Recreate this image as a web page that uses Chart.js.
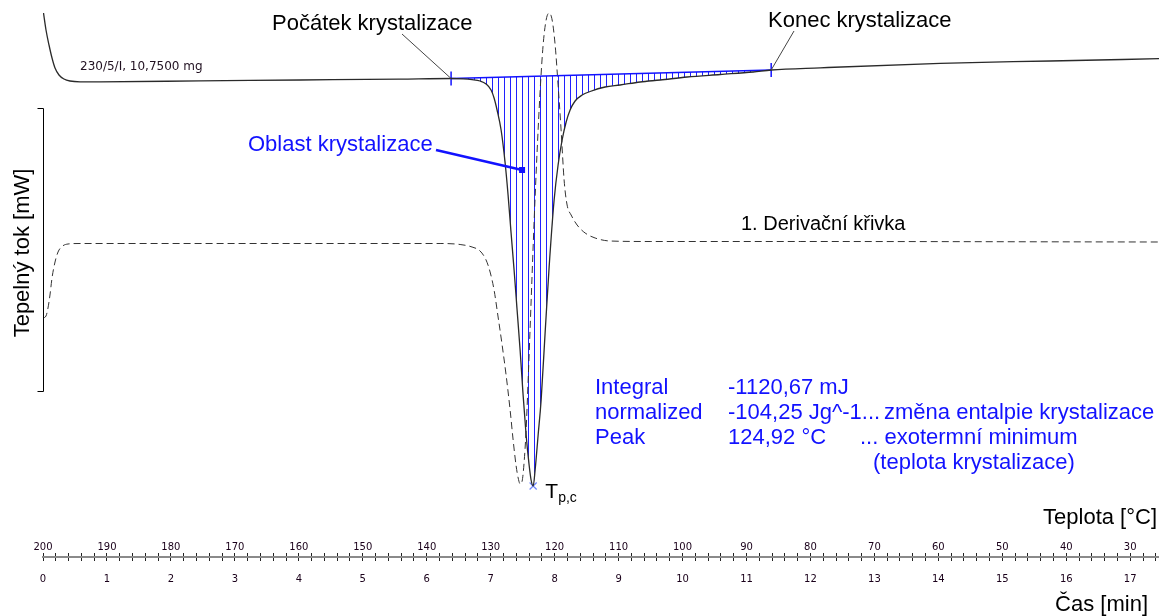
<!DOCTYPE html>
<html>
<head>
<meta charset="utf-8">
<script src="https://cdn.jsdelivr.net/npm/chart.js@4.4.1/dist/chart.umd.min.js"></script>
<style>
  html, body { margin: 0; padding: 0; background: #fff; }
</style>
</head>
<body>
<canvas id="dsc" width="1159" height="616"></canvas>
<script>
// DSC cooling run, 200 °C down at 10 °C/min; x is time in minutes
const startTemp = 200;
const coolRate = 10;
const timeMax = 17.45;

// heat flow curve [mW]
const dscTime = [0.008, 0.047, 0.094, 0.141, 0.188, 0.250, 0.328, 0.422, 0.579, 0.891, 2.455, 4.019, 5.583, 6.381, 6.569, 6.709, 6.834, 6.928, 7.006, 7.053, 7.100, 7.163, 7.226, 7.272, 7.319, 7.366, 7.413, 7.460, 7.507, 7.554, 7.601, 7.632, 7.664, 7.695, 7.742, 7.789, 7.851, 7.914, 7.992, 8.054, 8.117, 8.180, 8.242, 8.320, 8.430, 8.555, 8.789, 9.024, 9.337, 9.650, 10.072, 10.588, 11.104, 11.386, 12.152, 14.029, 15.749, 17.454];
const dscFlow = [3.35, 2.50, 1.75, 1.10, 0.60, 0.25, 0.05, -0.05, -0.09, -0.09, -0.045, 0.00, 0.045, 0.075, 0.06, 0.02, -0.05, -0.20, -0.50, -0.90, -1.50, -2.50, -4.15, -5.75, -7.65, -9.50, -11.50, -13.50, -15.75, -17.75, -19.25, -20.00, -20.30, -19.50, -17.75, -16.00, -12.65, -9.35, -6.00, -4.25, -3.00, -2.10, -1.50, -1.05, -0.75, -0.575, -0.35, -0.25, -0.10, 0.00, 0.15, 0.275, 0.40, 0.50, 0.61, 0.835, 0.95, 1.065];

// 1st derivative curve
const derTime = [0.000, 0.047, 0.078, 0.109, 0.141, 0.188, 0.235, 0.297, 0.391, 0.579, 6.209, 6.522, 6.709, 6.834, 6.928, 6.991, 7.053, 7.116, 7.179, 7.241, 7.304, 7.351, 7.398, 7.430, 7.461, 7.492, 7.523, 7.554, 7.586, 7.633, 7.680, 7.727, 7.774, 7.820, 7.867, 7.914, 7.961, 8.008, 8.054, 8.101, 8.148, 8.195, 8.258, 8.351, 8.477, 8.633, 8.868, 9.493, 11.839, 17.454];
const derValue = [-7.45, -7.25, -6.45, -5.15, -3.45, -1.85, -0.85, -0.30, -0.05, 0, 0, -0.10, -0.35, -0.75, -1.65, -2.85, -4.65, -7.35, -10.15, -13.15, -16.65, -19.65, -22.25, -23.45, -24.05, -23.75, -21.85, -18.65, -13.65, -5.65, 2.35, 9.35, 15.35, 19.85, 22.35, 23.05, 22.35, 19.85, 15.85, 11.35, 6.35, 3.85, 2.85, 1.85, 1.05, 0.55, 0.25, 0.20, 0.20, 0.15];

// integration baseline: onset and end of crystallization
const baseTime = [6.381, 11.386];
const baseFlow = [0.075, 0.50];

// exothermic minimum
const peakTime = [7.664];
const peakFlow = [-20.3];

// where the "Oblast krystalizace" pointer ends, and the flow axis ruler
const areaPoint = [7.491, -4.5];
const flowAxis = [-1.4, -15.55];

const blue = '#1212ff';
const textFont = '"Liberation Sans", Arial, sans-serif';
const tickFont = {family: '"DejaVu Sans", sans-serif', size: 10};

function pts(xs, ys) {
  return xs.map((v, i) => ({x: v, y: ys[i]}));
}

function hatch() {
  const c = document.createElement('canvas');
  c.width = 6; c.height = 4;
  const g = c.getContext('2d');
  g.fillStyle = '#2020ff';
  g.fillRect(0, 0, 1, 4);
  return g.createPattern(c, 'repeat');
}

function text(ctx, s, x, y, size, color, align) {
  ctx.font = size + 'px ' + textFont;
  ctx.fillStyle = color;
  ctx.textAlign = align || 'left';
  ctx.textBaseline = 'middle';
  ctx.fillText(s, x, y);
}

const notes = {
  id: 'notes',
  afterDraw(chart) {
    const ctx = chart.ctx;
    const x = chart.scales.x, y = chart.scales.y;
    ctx.save();

    // heat flow axis ruler
    const ax = Math.round(x.getPixelForValue(0)) + 0.5;
    const a1 = Math.round(y.getPixelForValue(flowAxis[0])) + 0.5;
    const a2 = Math.round(y.getPixelForValue(flowAxis[1])) + 0.5;
    ctx.strokeStyle = '#000';
    ctx.lineWidth = 1;
    ctx.beginPath();
    ctx.moveTo(ax - 6, a1); ctx.lineTo(ax, a1); ctx.lineTo(ax, a2); ctx.lineTo(ax - 6, a2);
    ctx.stroke();
    ctx.save();
    ctx.translate(23, 253);
    ctx.rotate(-Math.PI / 2);
    text(ctx, 'Tepelný tok [mW]', 0, 0, 22, '#000', 'center');
    ctx.restore();

    // leaders to onset / end of crystallization
    const ox = x.getPixelForValue(baseTime[0]), oy = y.getPixelForValue(baseFlow[0]);
    const ex = x.getPixelForValue(baseTime[1]), ey = y.getPixelForValue(baseFlow[1]);
    ctx.strokeStyle = '#444';
    ctx.beginPath();
    ctx.moveTo(402, 34); ctx.lineTo(ox, oy);
    ctx.moveTo(794, 31); ctx.lineTo(ex, ey);
    ctx.stroke();
    text(ctx, 'Počátek krystalizace', 272, 24, 22, '#000');
    text(ctx, 'Konec krystalizace', 768, 21, 22, '#000');

    // crystallization area pointer
    const px = x.getPixelForValue(areaPoint[0]), py = y.getPixelForValue(areaPoint[1]);
    ctx.strokeStyle = blue;
    ctx.lineWidth = 2.5;
    ctx.beginPath();
    ctx.moveTo(436, 150); ctx.lineTo(px, py);
    ctx.stroke();
    ctx.fillStyle = blue;
    ctx.fillRect(px - 3, py - 3, 6, 6);
    text(ctx, 'Oblast krystalizace', 248, 145, 22, blue);

    text(ctx, '1. Derivační křivka', 741, 224, 20, '#000');
    text(ctx, 'Teplota [°C]', 1157, 518, 22, '#000', 'right');

    ctx.font = '12px "DejaVu Sans", sans-serif';
    ctx.fillStyle = '#201020';
    ctx.textAlign = 'left';
    ctx.fillText('230/5/I, 10,7500 mg', 80, 67);

    // Tp,c label at the peak
    const tx = x.getPixelForValue(peakTime[0]) + 12;
    const ty = y.getPixelForValue(peakFlow[0]) + 6;
    text(ctx, 'T', tx, ty, 21, '#000');
    text(ctx, 'p,c', tx + 13, ty + 6, 14, '#000');

    // evaluation results
    text(ctx, 'Integral', 595, 388, 22, blue);
    text(ctx, 'normalized', 595, 413, 22, blue);
    text(ctx, 'Peak', 595, 438, 22, blue);
    text(ctx, '-1120,67 mJ', 728, 388, 22, blue);
    text(ctx, '-104,25 Jg^-1...', 728, 413, 22, blue);
    text(ctx, '124,92 °C', 728, 438, 22, blue);
    text(ctx, 'změna entalpie krystalizace', 884, 413, 22, blue);
    text(ctx, '... exotermní minimum', 860, 438, 22, blue);
    text(ctx, '(teplota krystalizace)', 873, 463, 22, blue);

    ctx.restore();
  }
};

const ctx = document.getElementById('dsc').getContext('2d');
new Chart(ctx, {
  type: 'line',
  data: {
    datasets: [{
      label: 'DSC',
      data: pts(dscTime, dscFlow),
      borderColor: '#2a2a2a',
      borderWidth: 1.3,
      pointRadius: 0,
      cubicInterpolationMode: 'monotone',
      fill: 1,
      backgroundColor: hatch(),
      xAxisID: 'x',
      yAxisID: 'y'
    }, {
      label: 'baseline',
      data: pts(baseTime, baseFlow),
      borderColor: blue,
      borderWidth: 1.5,
      pointStyle: 'line',
      pointRotation: 90,
      pointRadius: 7,
      pointBorderColor: blue,
      pointBorderWidth: 1.5,
      fill: false,
      xAxisID: 'x',
      yAxisID: 'y'
    }, {
      label: 'derivace',
      data: pts(derTime, derValue),
      borderColor: '#333',
      borderWidth: 1,
      borderDash: [7, 4],
      pointRadius: 0,
      cubicInterpolationMode: 'monotone',
      fill: false,
      xAxisID: 'x',
      yAxisID: 'y2'
    }, {
      label: 'peak',
      data: pts(peakTime, peakFlow),
      showLine: false,
      pointStyle: 'crossRot',
      pointRadius: 5,
      pointBorderColor: '#6f86ff',
      pointBorderWidth: 1.2,
      xAxisID: 'x',
      yAxisID: 'y'
    }]
  },
  options: {
    responsive: false,
    animation: false,
    devicePixelRatio: 1,
    layout: {autoPadding: false, padding: {left: 43, right: 0, top: 0, bottom: 0}},
    plugins: {
      legend: {display: false},
      tooltip: {enabled: false},
      filler: {drawTime: 'beforeDatasetsDraw'}
    },
    scales: {
      x: {
        type: 'linear',
        position: 'bottom',
        weight: 1,
        min: 0,
        max: timeMax,
        border: {display: true, color: '#8a8a8a', width: 2},
        grid: {display: true, drawOnChartArea: false, drawTicks: true, tickLength: 4, tickColor: '#222'},
        ticks: {
          stepSize: 0.2, autoSkip: false, maxRotation: 0, includeBounds: false, maxTicksLimit: 1000,
          padding: 3, font: Object.assign({lineHeight: '30px'}, tickFont), color: '#1a001a',
          callback: v => (Math.abs(v - Math.round(v)) < 1e-6 ? Math.round(v) : '')
        },
        title: {
          display: true, text: 'Čas [min]\u2002', align: 'end', color: '#000',
          font: {family: textFont, size: 22, lineHeight: 1}, padding: {top: -3, bottom: 0}
        }
      },
      xT: {
        type: 'linear',
        axis: 'x',
        position: 'bottom',
        weight: 0,
        reverse: true,
        min: startTemp - coolRate * timeMax,
        max: startTemp,
        border: {display: false},
        grid: {display: true, drawOnChartArea: false, drawTicks: true, tickLength: 4, tickColor: '#222'},
        ticks: {
          stepSize: 2, autoSkip: false, maxRotation: 0, includeBounds: false, maxTicksLimit: 1000,
          mirror: true, padding: 0, font: tickFont, color: '#1a001a',
          callback: v => (Math.abs(v / 10 - Math.round(v / 10)) < 1e-6 ? Math.round(v) : '')
        }
      },
      y: {type: 'linear', display: false, min: -23.65, max: 4},
      y2: {type: 'linear', display: false, min: -30.95, max: 24.35}
    }
  },
  plugins: [notes]
});
</script>
</body>
</html>
